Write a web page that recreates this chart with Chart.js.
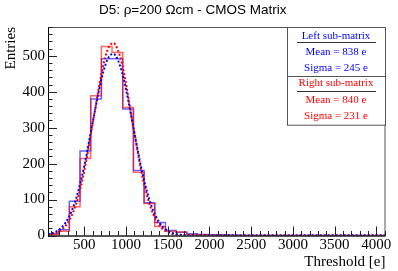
<!DOCTYPE html>
<html>
<head>
<meta charset="utf-8">
<script src="https://cdn.jsdelivr.net/npm/chart.js@4.4.0/dist/chart.umd.min.js"></script>
<style>
html, body { margin: 0; padding: 0; background: #fff; }
</style>
</head>
<body>
<canvas id="chart" width="398" height="271"></canvas>
<script>
// histogram bins (left edges, last entry is the right edge of the last bin)
const binEdges = [64, 192, 320, 448, 576, 704, 832, 960, 1088, 1216, 1344, 1472, 1600, 1728, 1856, 1984, 2112, 2240, 2368];
const leftCounts = [5, 16, 95, 235, 380, 492, 492, 352, 181, 91, 36, 14, 9, 5, 3, 2, 2, 1];
const rightCounts = [3, 12, 80, 214, 389, 526, 509, 356, 176, 89, 25, 12, 10, 3, 2, 1, 1, 0];

// fitted curves
const fitX = [64, 100, 200, 300, 400, 500, 600, 700, 750, 800, 850, 900, 950, 1000, 1100, 1200, 1300, 1400, 1500, 1600, 1700, 1800, 2000, 4110];
const leftFit = [3.4, 5.4, 17, 45, 102, 195, 315, 431, 473, 499, 505, 489, 455, 406, 285, 169, 85, 36, 13, 4, 1, 0.3, 0, 0];
const rightFit = [1.9, 3.2, 11.5, 35, 87, 181, 312, 445, 496, 527, 535, 517, 478, 421, 284, 159, 74, 28, 9, 2.4, 0.5, 0.1, 0, 0];

// axis labels
const xTicks = [500, 1000, 1500, 2000, 2500, 3000, 3500, 4000];
const yTicks = [0, 100, 200, 300, 400, 500];

const xMin = 64, xMax = 4110;
const yMin = 0, yMax = 580;

const serif = "'Liberation Serif', 'Times New Roman', serif";

function histPoints(counts) {
    const pts = [{x: binEdges[0], y: 0}];
    counts.forEach((c, i) => pts.push({x: binEdges[i], y: c}));
    pts.push({x: binEdges[counts.length], y: 0});
    pts.push({x: xMax, y: 0});
    return pts;
}

function fitPoints(vals) {
    return fitX.map((x, i) => ({x: x, y: vals[i]}));
}

// ROOT style frame, inward ticks and the stats pave
const rootFrame = {
    id: 'rootFrame',
    afterDraw: (chart) => {
        const {ctx, chartArea: {left, right, top, bottom}, scales: {x, y}} = chart;
        ctx.save();
        ctx.strokeStyle = '#555';
        ctx.lineWidth = 1;
        ctx.strokeRect(left + 0.5, top + 0.5, right - left - 1, bottom - top);
        ctx.strokeStyle = '#000';
        ctx.beginPath();
        ctx.moveTo(left + 0.5, top);
        ctx.lineTo(left + 0.5, bottom + 0.5);
        ctx.lineTo(right, bottom + 0.5);
        ctx.stroke();

        ctx.strokeStyle = '#222';
        ctx.beginPath();
        for (let v = 0; v <= yMax; v += 20) {
            const py = Math.round(y.getPixelForValue(v)) + 0.5;
            const len = v % 100 === 0 ? 9 : 4.5;
            ctx.moveTo(left, py);
            ctx.lineTo(left + len, py);
        }
        for (let v = 100; v <= xMax; v += 100) {
            const px = Math.round(x.getPixelForValue(v)) + 0.5;
            const len = v % 500 === 0 ? 9 : 4.5;
            ctx.moveTo(px, bottom);
            ctx.lineTo(px, bottom - len);
        }
        ctx.stroke();

        // stats box
        const bx0 = 287, bx1 = 385.5;
        ctx.fillStyle = '#fff';
        ctx.fillRect(bx0, top, bx1 - bx0, 124.7 - top);
        ctx.strokeStyle = '#555';
        ctx.strokeRect(bx0 + 0.5, top + 0.5, bx1 - bx0 - 0.5, 124.7 - top);
        ctx.beginPath();
        ctx.moveTo(bx0, 76.5);
        ctx.lineTo(bx1, 76.5);
        ctx.stroke();
        ctx.strokeStyle = '#333';
        ctx.beginPath();
        ctx.moveTo(297, 42.5);
        ctx.lineTo(376, 42.5);
        ctx.moveTo(297, 91.5);
        ctx.lineTo(376, 91.5);
        ctx.stroke();

        const lines = [
            ['Left sub-matrix', '#0000ff', 35.7],
            ['Mean = 838 e', '#0000ff', 52.3],
            ['Sigma = 245 e', '#0000ff', 67.7],
            ['Right sub-matrix', '#ff0000', 82.7],
            ['Mean = 840 e', '#ff0000', 100],
            ['Sigma = 231 e', '#ff0000', 116]
        ];
        ctx.font = '11px ' + serif;
        ctx.textAlign = 'center';
        ctx.textBaseline = 'middle';
        lines.forEach(([t, c, ty]) => {
            ctx.fillStyle = c;
            ctx.fillText(t, 336, ty);
        });
        ctx.restore();
    }
};

const ctx = document.getElementById('chart');
const myChart = new Chart(ctx, {
    type: 'line',
    data: {
        datasets: [
            {
                label: 'Left fit',
                data: fitPoints(leftFit),
                borderColor: '#0000ff',
                borderWidth: 2,
                borderDash: [2, 2],
                cubicInterpolationMode: 'monotone',
                pointRadius: 0,
                fill: false
            },
            {
                label: 'Right fit',
                data: fitPoints(rightFit),
                borderColor: '#ff0000',
                borderWidth: 2,
                borderDash: [2, 2],
                cubicInterpolationMode: 'monotone',
                pointRadius: 0,
                fill: false
            },
            {
                label: 'Right sub-matrix',
                data: histPoints(rightCounts),
                borderColor: 'rgba(255, 0, 0, 0.6)',
                borderWidth: 1.5,
                stepped: true,
                pointRadius: 0,
                fill: false
            },
            {
                label: 'Left sub-matrix',
                data: histPoints(leftCounts),
                borderColor: 'rgba(0, 0, 255, 0.6)',
                borderWidth: 1.5,
                stepped: true,
                pointRadius: 0,
                fill: false
            }
        ]
    },
    options: {
        responsive: false,
        animation: false,
        layout: {
            padding: {left: 0, right: 12.5, top: 0, bottom: 0}
        },
        plugins: {
            legend: {display: false},
            tooltip: {enabled: false},
            title: {
                display: true,
                text: 'D5: \u03c1=200 \u03a9cm - CMOS Matrix',
                color: '#000',
                font: {family: "'Liberation Sans', Arial, sans-serif", size: 13.5, weight: 'normal'},
                padding: {top: 2, bottom: 8.8}
            }
        },
        scales: {
            x: {
                type: 'linear',
                min: xMin,
                max: xMax,
                grid: {display: false, drawTicks: false},
                border: {display: false},
                afterBuildTicks: (scale) => { scale.ticks = xTicks.map(v => ({value: v})); },
                ticks: {
                    autoSkip: false,
                    maxRotation: 0,
                    color: '#000',
                    padding: 1,
                    font: {family: serif, size: 15},
                    callback: (v) => String(v)
                },
                title: {
                    display: true,
                    text: 'Threshold [e]',
                    align: 'end',
                    color: '#000',
                    font: {family: serif, size: 15},
                    padding: {top: 0, bottom: 0}
                },
                afterFit: (scale) => { scale.height = 35.5; }
            },
            y: {
                min: yMin,
                max: yMax,
                grid: {display: false, drawTicks: false},
                border: {display: false},
                afterBuildTicks: (scale) => { scale.ticks = yTicks.map(v => ({value: v})); },
                ticks: {
                    color: '#000',
                    padding: 3,
                    font: {family: serif, size: 15},
                    callback: (v) => String(v)
                },
                title: {
                    display: true,
                    text: 'Entries',
                    align: 'end',
                    color: '#000',
                    font: {family: serif, size: 15},
                    padding: {top: 2, bottom: 0}
                },
                afterFit: (scale) => { scale.width = 48; }
            }
        }
    },
    plugins: [rootFrame]
});
</script>
</body>
</html>
